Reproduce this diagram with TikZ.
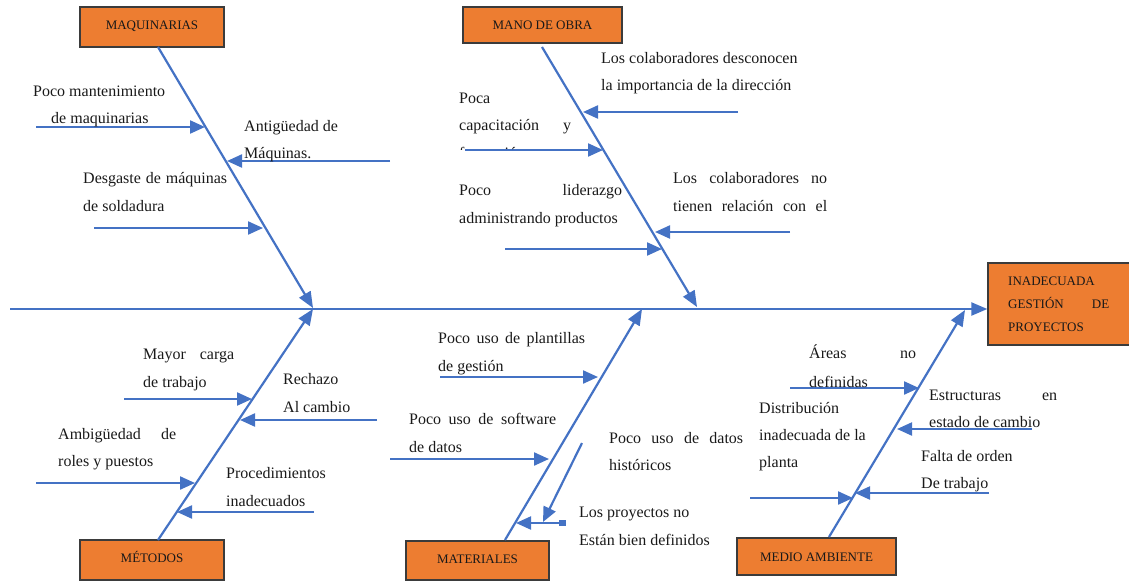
\documentclass[tikz,border=0pt]{standalone}
\usepackage{fontspec}
\setmainfont{Liberation Serif}
\usetikzlibrary{arrows.meta}
\definecolor{fbblue}{HTML}{4472C4}
\definecolor{fborange}{HTML}{ED7D31}
\definecolor{fbedge}{HTML}{3B3B3B}
\tikzset{
  cat/.style={draw=fbedge, line width=1.3pt, fill=fborange, inner sep=0pt,
    text=black!90, text height=9pt, text depth=0pt, font=\fontsize{13}{15}\selectfont},
  raised/.style={text depth=4pt},
  txt/.style={inner sep=0pt, anchor=base west, text=black!90, font=\fontsize{16}{19}\selectfont},
  headtxt/.style={inner sep=0pt, anchor=base west, text=black!90, font=\fontsize{13}{15}\selectfont},
  bone/.style={draw=fbblue, line width=2.2pt, -{Triangle[length=16pt,width=13pt]}},
  sub/.style={draw=fbblue, line width=2.2pt, -{Triangle[length=15pt,width=13pt]}},
}
\newcommand{\jw}[2]{\makebox[#1pt][s]{#2}}
\begin{document}
\begin{tikzpicture}[x=1pt,y=-1pt]
\useasboundingbox (0,0) rectangle (1129,581);

% category boxes
\node[cat, raised, minimum width=144pt, minimum height=40pt] (maq) at (152,27) {MAQUINARIAS};
\node[cat, minimum width=159pt, minimum height=36pt] (mano) at (542.5,25) {MANO DE OBRA};
\node[cat, raised, minimum width=144pt, minimum height=40pt] (met) at (152,560) {MÉTODOS};
\node[cat, raised, minimum width=143pt, minimum height=39pt] (mat) at (477.5,560.5) {MATERIALES};
\node[cat, minimum width=159pt, minimum height=37pt] (med) at (816.5,556.5) {MEDIO AMBIENTE};
\node[cat, minimum width=152pt, minimum height=82pt] (head) at (1064,304) {};
\node[headtxt] (h1) at (1008,285) {INADECUADA};
\node[headtxt] (h2) at (1008,308) {\makebox[101pt][s]{GESTIÓN DE}};
\node[headtxt] (h3) at (1008,331) {PROYECTOS};

% spine
\coordinate (sp0) at (10,309);
\draw[bone] (sp0) -- (sp0 -| head.west);

% main bones
\coordinate (mqs) at (158,47);   \coordinate (mqt) at (313,308);
\coordinate (mos) at (542,47);   \coordinate (mot) at (697,307);
\coordinate (mes) at (158,540);  \coordinate (met2) at (313,309);
\coordinate (mas) at (505,540);  \coordinate (mat2) at (642,309);
\coordinate (mds) at (829,537);  \coordinate (mdt) at (965,310);
\draw[bone] (mqs) -- (mqt);
\draw[bone] (mos) -- (mot);
\draw[bone] (mes) -- (met2);
\draw[bone] (mas) -- (mat2);
\draw[bone] (mds) -- (mdt);

% sub arrows
\coordinate (a1s) at (36,127);  \coordinate (a1t) at (205,127);
\coordinate (a2s) at (390,161); \coordinate (a2t) at (227,161);
\coordinate (a3s) at (94,228);  \coordinate (a3t) at (263,228);
\coordinate (b1s) at (738,112); \coordinate (b1t) at (583,112);
\coordinate (b2s) at (465,150); \coordinate (b2t) at (603,150);
\coordinate (b3s) at (790,232); \coordinate (b3t) at (655,232);
\coordinate (b4s) at (505,249); \coordinate (b4t) at (662,249);
\coordinate (c1s) at (124,399); \coordinate (c1t) at (252,399);
\coordinate (c2s) at (377,420); \coordinate (c2t) at (240,420);
\coordinate (c3s) at (36,483);  \coordinate (c3t) at (195,483);
\coordinate (c4s) at (314,512); \coordinate (c4t) at (177,512);
\coordinate (d1s) at (440,377); \coordinate (d1t) at (598,377);
\coordinate (d2s) at (390,459); \coordinate (d2t) at (549,459);
\coordinate (d3s) at (582,443); \coordinate (d3t) at (543,522);
\coordinate (d4s) at (566,523); \coordinate (d4t) at (516,523);
\coordinate (e1s) at (790,388); \coordinate (e1t) at (919,388);
\coordinate (e2s) at (1032,429);\coordinate (e2t) at (897,429);
\coordinate (e3s) at (750,498); \coordinate (e3t) at (853,498);
\coordinate (e4s) at (989,493); \coordinate (e4t) at (855,493);
\foreach \p in {a1,a2,a3,b1,b2,b3,b4,c1,c2,c3,c4,d1,d2,d3,d4,e1,e2,e3,e4}
  \draw[sub] (\p s) -- (\p t);
\fill[fbblue] (559,520.3) rectangle (566,525.7);

% texts: MAQUINARIAS
\node[txt] (t1) at (33,96) {Poco mantenimiento};
\node[txt] (t2) at (51,123) {de maquinarias};
\node[txt] (t3) at (244,131) {Antigüedad de};
\node[txt] (t4) at (244,158) {Máquinas.};
\node[txt] (t5) at (83,183) {\jw{144}{Desgaste de máquinas}};
\node[txt] (t6) at (83,211) {de soldadura};
% MANO DE OBRA
\node[txt] (t7) at (601,63) {Los colaboradores desconocen};
\node[txt] (t8) at (601,90) {la importancia de la dirección};
\node[txt] (t9) at (459,103) {Poca};
\node[txt] (t10) at (459,130) {\jw{112}{capacitación y}};
\begin{scope}
  \clip (440,140) rectangle (640,149.3);
  \node[txt] (t11) at (459,158) {formación};
\end{scope}
\node[txt] (t12) at (459,195) {\jw{163}{Poco liderazgo}};
\node[txt] (t13) at (459,223) {administrando productos};
\node[txt] (t14) at (673,183) {\jw{154}{Los colaboradores no}};
\node[txt] (t15) at (673,211) {\jw{154}{tienen relación con el}};
% METODOS
\node[txt] (t16) at (143,359) {\jw{91}{Mayor carga}};
\node[txt] (t17) at (143,387) {de trabajo};
\node[txt] (t18) at (283,384) {Rechazo};
\node[txt] (t19) at (283,412) {Al cambio};
\node[txt] (t20) at (58,439) {\jw{118}{Ambigüedad de}};
\node[txt] (t21) at (58,466) {roles y puestos};
\node[txt] (t22) at (226,478) {Procedimientos};
\node[txt] (t23) at (226,506) {inadecuados};
% MATERIALES
\node[txt] (t24) at (438,343) {\jw{147}{Poco uso de plantillas}};
\node[txt] (t25) at (438,371) {de gestión};
\node[txt] (t26) at (409,424) {\jw{147}{Poco uso de software}};
\node[txt] (t27) at (409,452) {de datos};
\node[txt] (t28) at (609,443) {\jw{134}{Poco uso de datos}};
\node[txt] (t29) at (609,470) {históricos};
\node[txt] (t30) at (579,517) {Los proyectos no};
\node[txt] (t31) at (579,545) {Están bien definidos};
% MEDIO AMBIENTE
\node[txt] (t32) at (809,358) {\jw{107}{Áreas no}};
\node[txt] (t33) at (809,387) {definidas};
\node[txt] (t34) at (929,400) {\jw{128}{Estructuras en}};
\node[txt] (t35) at (929,427) {estado de cambio};
\node[txt] (t36) at (759,413) {Distribución};
\node[txt] (t37) at (759,440) {inadecuada de la};
\node[txt] (t38) at (759,467) {planta};
\node[txt] (t39) at (921,461) {Falta de orden};
\node[txt] (t40) at (921,488) {De trabajo};
\end{tikzpicture}
\end{document}
